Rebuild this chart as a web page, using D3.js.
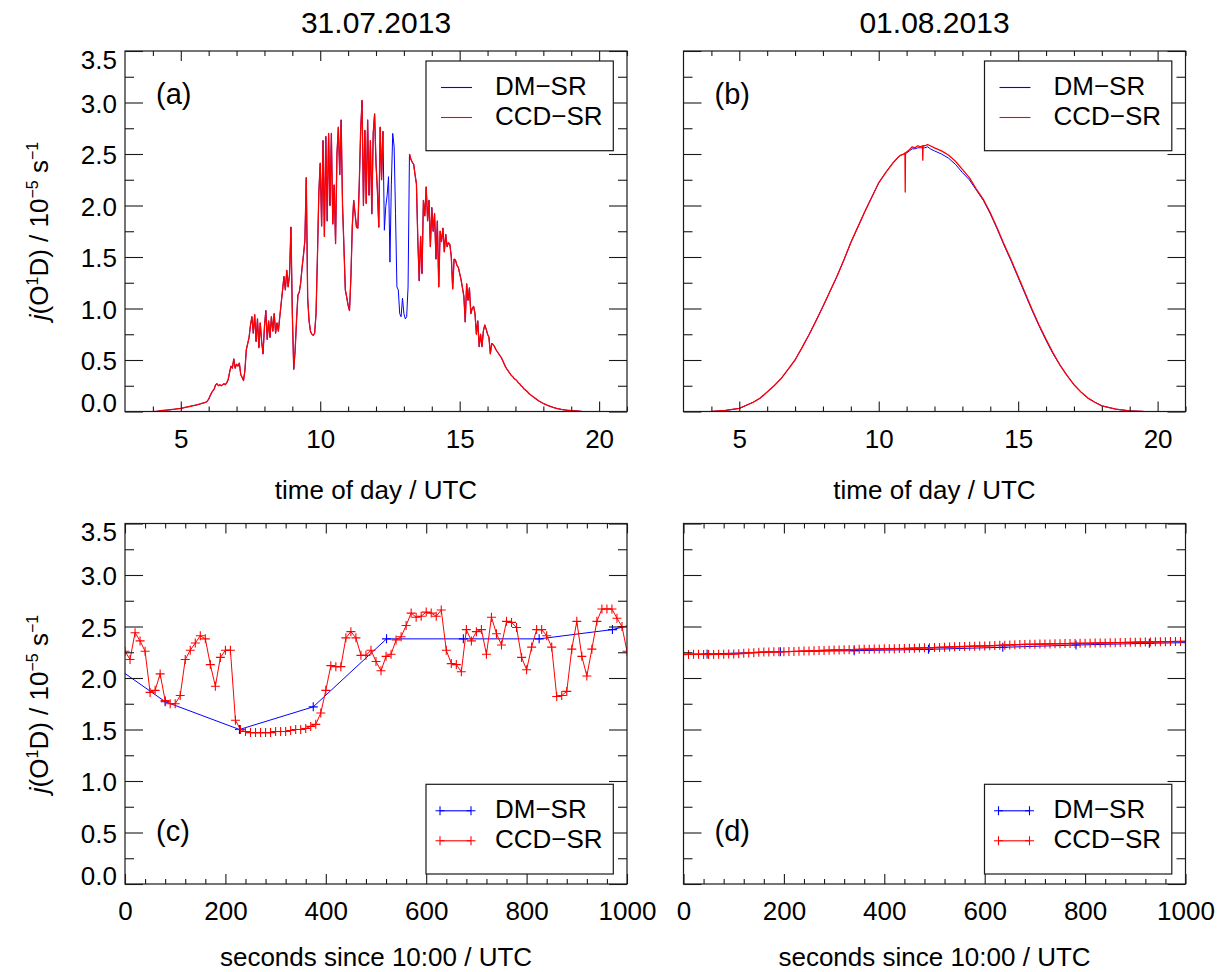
<!DOCTYPE html>
<html>
<head>
<meta charset="utf-8">
<script src="https://cdn.jsdelivr.net/npm/d3@7"></script>
<style>
  body { margin: 0; background: #fff; }
  svg { display: block; }
  text { font-family: "Liberation Sans", Arial, Helvetica, sans-serif; fill: #000; }
</style>
</head>
<body>
<svg id="chart" width="1218" height="972"></svg>
<script>
// ---------------------------------------------------------------------------
// Photolysis frequency j(O1D), two spectroradiometers (DM-SR, CCD-SR)
// ---------------------------------------------------------------------------

const dayTitles = ["31.07.2013", "01.08.2013"];
const seriesNames = ["DM\u2212SR", "CCD\u2212SR"];
const panelTags = ["(a)", "(b)", "(c)", "(d)"];

const yTickValues = [0, 0.5, 1.0, 1.5, 2.0, 2.5, 3.0, 3.5];
const yTickLabels = ["0.0", "0.5", "1.0", "1.5", "2.0", "2.5", "3.0", "3.5"];
const yMinorValues = [0.25, 0.75, 1.25, 1.75, 2.25, 2.75, 3.25];

const hourTickValues = [5, 10, 15, 20];
const hourTickLabels = ["5", "10", "15", "20"];
const hourMinorValues = [4, 6, 7, 8, 9, 11, 12, 13, 14, 16, 17, 18, 19, 21];

const secTickValues = [0, 200, 400, 600, 800, 1000];
const secTickLabels = ["0", "200", "400", "600", "800", "1000"];
const secMinorValues = [40, 80, 120, 160, 240, 280, 320, 360, 440, 480, 520, 560,
                        640, 680, 720, 760, 840, 880, 920, 960];

// (a) 31.07.2013, full day, 0.05 h sampling from 03:00 to 21:00 UTC
const hoursA = d3.range(0, 361).map(i => 3 + i * 0.05);

const dmA = [
  0,0,0,0,0,0,0,0,0,0,0,0,0,0,0,0,0,0,0,0,
  0,0,0,0.002,0.004,0.006,0.008,0.01,0.011,0.012,0.014,0.015,0.017,0.018,0.02,0.021,0.023,0.025,0.027,0.028,
  0.03,0.033,0.036,0.039,0.042,0.045,0.048,0.051,0.054,0.057,0.06,0.063,0.066,0.07,0.074,0.078,0.082,0.086,0.09,0.1,
  0.12,0.15,0.18,0.2,0.22,0.26,0.27,0.25,0.26,0.25,0.26,0.27,0.26,0.28,0.31,0.38,0.44,0.42,0.51,0.42,
  0.46,0.44,0.47,0.36,0.33,0.3,0.4,0.6,0.66,0.72,0.84,0.92,0.76,0.94,0.68,0.9,0.62,0.86,0.68,0.56,
  0.82,0.98,0.7,0.88,0.72,0.92,0.78,0.95,0.76,0.86,0.78,0.92,1.05,1.18,1.31,1.18,1.37,1.21,1.33,1.79,
  0.95,0.41,0.59,0.88,1.13,1.16,1.25,1.4,1.52,1.66,2.27,1.1,0.88,0.78,0.75,0.74,0.76,0.95,1.5,2.12,
  2.41,1.8,2.63,1.7,2.67,1.85,2.7,2.0,2.7,1.82,2.2,1.63,2.5,2.76,2.3,2.83,2.0,1.6,1.18,1.11,
  1.03,0.98,1.3,1.8,2.05,1.92,1.79,1.78,2.21,2.73,3.02,2.0,2.73,2.02,2.83,2.1,2.63,1.92,2.7,2.89,
  2.41,2.15,1.79,2.76,2.25,2.72,1.76,1.99,2.1,2.28,1.45,2.2,2.7,2.57,1.92,1.21,1.18,0.95,0.92,1.1,
  0.95,0.9,0.92,1.21,2.5,2.45,2.42,2.4,2.3,2.21,1.66,1.27,1.7,1.34,2.05,1.9,2.18,1.85,2.05,1.6,
  1.98,1.75,1.92,1.48,1.85,1.21,1.75,1.65,1.78,1.55,1.72,1.6,1.64,1.62,1.5,1.19,1.48,1.47,1.42,1.4,
  1.34,1.28,1.2,1.12,0.87,1.24,1.08,1.2,0.95,1.0,1.02,0.95,0.75,0.88,0.63,0.75,0.63,0.78,0.84,0.8,
  0.75,0.72,0.56,0.66,0.65,0.63,0.6,0.58,0.56,0.54,0.52,0.49,0.46,0.43,0.41,0.39,0.37,0.35,0.34,0.32,
  0.31,0.3,0.28,0.27,0.25,0.24,0.22,0.21,0.2,0.185,0.17,0.16,0.15,0.14,0.13,0.12,0.11,0.1,0.093,0.085,
  0.078,0.072,0.066,0.06,0.055,0.05,0.045,0.04,0.036,0.032,0.029,0.026,0.023,0.02,0.018,0.016,0.014,0.012,0.011,0.01,
  0.009,0.008,0.007,0.006,0.005,0.004,0.003,0.002,0.001,0,0,0,0,0,0,0,0,0,0,0,
  0,0,0,0,0,0,0,0,0,0,0,0,0,0,0,0,0,0,0,0,
  0
];

const ccdA = [
  null,null,null,null,null,null,null,null,null,null,null,null,null,null,null,null,null,null,null,null,
  0,0,0,0.002,0.004,0.006,0.008,0.01,0.011,0.012,0.014,0.015,0.017,0.018,0.02,0.021,0.023,0.025,0.027,0.028,
  0.03,0.033,0.036,0.039,0.042,0.045,0.048,0.051,0.054,0.057,0.06,0.063,0.066,0.07,0.074,0.078,0.082,0.086,0.09,0.1,
  0.12,0.15,0.18,0.2,0.22,0.26,0.27,0.25,0.26,0.25,0.26,0.27,0.26,0.28,0.31,0.38,0.44,0.42,0.51,0.42,
  0.46,0.44,0.47,0.36,0.33,0.3,0.4,0.6,0.66,0.72,0.84,0.92,0.76,0.94,0.68,0.9,0.62,0.86,0.68,0.56,
  0.82,0.98,0.7,0.88,0.72,0.92,0.78,0.95,0.76,0.86,0.78,0.92,1.05,1.18,1.31,1.18,1.37,1.21,1.33,1.79,
  0.95,0.41,0.59,0.88,1.13,1.16,1.25,1.4,1.52,1.66,2.27,1.1,0.88,0.78,0.75,0.74,0.76,0.95,1.5,2.12,
  2.41,1.8,2.63,1.7,2.67,1.85,2.7,2.0,2.7,1.82,2.2,1.63,2.5,2.76,2.3,2.83,2.0,1.6,1.18,1.11,
  1.03,0.98,1.3,1.8,2.05,1.92,1.79,1.78,2.21,2.73,3.02,2.0,2.73,2.02,2.83,2.1,2.63,1.92,2.7,2.89,
  2.41,2.15,1.79,2.76,2.25,2.72,null,null,null,null,null,null,null,null,null,null,null,null,null,null,
  null,null,null,null,2.5,2.45,2.42,2.4,2.3,2.21,1.66,1.27,1.7,1.34,2.05,1.9,2.18,1.85,2.05,1.6,
  1.98,1.75,1.92,1.48,1.85,1.21,1.75,1.65,1.78,1.55,1.72,1.6,1.64,1.62,1.5,1.19,1.48,1.47,1.42,1.4,
  1.34,1.28,1.2,1.12,0.87,1.24,1.08,1.2,0.95,1.0,1.02,0.95,0.75,0.88,0.63,0.75,0.63,0.78,0.84,0.8,
  0.75,0.72,0.56,0.66,0.65,0.63,0.6,0.58,0.56,0.54,0.52,0.49,0.46,0.43,0.41,0.39,0.37,0.35,0.34,0.32,
  0.31,0.3,0.28,0.27,0.25,0.24,0.22,0.21,0.2,0.185,0.17,0.16,0.15,0.14,0.13,0.12,0.11,0.1,0.093,0.085,
  0.078,0.072,0.066,0.06,0.055,0.05,0.045,0.04,0.036,0.032,0.029,0.026,0.023,0.02,0.018,0.016,0.014,0.012,0.011,0.01,
  0.009,0.008,0.007,0.006,0.005,0.004,0.003,0.002,null,null,null,null,null,null,null,null,null,null,null,null,
  null,null,null,null,null,null,null,null,null,null,null,null,null,null,null,null,null,null,null,null,
  null
];

// (b) 01.08.2013, clear-sky day
const hoursB = [3, 3.5, 4, 4.5, 5, 5.5, 5.75,
  6, 6.25, 6.5, 6.75, 7, 7.25, 7.5, 7.75, 8, 8.25, 8.5, 8.75, 9, 9.25, 9.5, 9.75,
  10, 10.25, 10.5, 10.7, 10.8, 10.9, 10.94, 10.95, 10.96,
  11, 11.1, 11.2, 11.3, 11.4, 11.5, 11.57, 11.58, 11.59, 11.65, 11.75, 11.85,
  12, 12.25, 12.5, 12.75, 13, 13.25, 13.5, 13.75, 14, 14.25, 14.5, 14.75,
  15, 15.25, 15.5, 15.75, 16, 16.25, 16.5, 16.75, 17, 17.25, 17.5, 17.75,
  18, 18.5, 19, 19.5, 20, 20.5, 21];

const dmB = [0, 0, 0, 0.01, 0.03, 0.09, 0.13,
  0.19, 0.25, 0.32, 0.41, 0.5, 0.62, 0.745, 0.88, 1.02, 1.165, 1.31, 1.47, 1.64, 1.79, 1.94, 2.08,
  2.22, 2.32, 2.41, 2.47, 2.49, 2.5, 2.5, 2.5, 2.5,
  2.51, 2.53, 2.55, 2.55, 2.56, 2.56, 2.56, 2.56, 2.56, 2.56, 2.57, 2.55,
  2.53, 2.5, 2.46, 2.4, 2.32, 2.25, 2.15, 2.05, 1.92, 1.77, 1.61, 1.46,
  1.3, 1.14, 0.98, 0.83, 0.69, 0.56, 0.45, 0.35, 0.26, 0.19, 0.13, 0.09,
  0.055, 0.023, 0.006, 0, 0, 0, 0];

const ccdB = [null, null, 0, 0.01, 0.03, 0.09, 0.13,
  0.19, 0.25, 0.32, 0.41, 0.5, 0.62, 0.745, 0.88, 1.02, 1.165, 1.31, 1.47, 1.64, 1.79, 1.94, 2.08,
  2.22, 2.32, 2.41, 2.47, 2.49, 2.5, 2.51, 2.13, 2.51,
  2.52, 2.54, 2.57, 2.56, 2.58, 2.57, 2.58, 2.44, 2.58, 2.58, 2.59, 2.58,
  2.56, 2.53, 2.49, 2.43, 2.35, 2.27, 2.16, 2.06, 1.93, 1.78, 1.62, 1.47,
  1.31, 1.15, 0.99, 0.84, 0.70, 0.57, 0.45, 0.35, 0.26, 0.19, 0.13, 0.09,
  0.055, 0.023, 0.006, 0, null, null, null];

// (c) 31.07.2013, 1000 s after 10:00 UTC
const secondsCcd = d3.range(0, 1001, 10);

const ccdC = [
  2.26, 2.18, 2.44, 2.36, 2.26, 1.86, 1.88, 2.04, 1.78, 1.75,
  1.75, 1.83, 2.18, 2.27, 2.34, 2.41, 2.38, 2.13, 1.92, 2.20,
  2.27, 2.27, 1.59, 1.50, 1.48, 1.47, 1.47, 1.47, 1.47, 1.47,
  1.48, 1.48, 1.48, 1.49, 1.50, 1.50, 1.51, 1.53, 1.55, 1.66,
  1.88, 2.12, 2.11, 2.11, 2.39, 2.45, 2.39, 2.22, 2.22, 2.27,
  2.16, 2.07, 2.21, 2.23, 2.37, 2.40, 2.51, 2.63, 2.59, 2.60,
  2.64, 2.63, 2.60, 2.66, 2.27, 2.14, 2.13, 2.06, 2.47, 2.36,
  2.45, 2.47, 2.23, 2.59, 2.43, 2.32, 2.55, 2.54, 2.49, 2.20,
  2.08, 2.30, 2.47, 2.47, 2.41, 2.30, 1.82, 1.83, 1.87, 2.28,
  2.55, 2.21, 2.02, 2.28, 2.55, 2.67, 2.67, 2.67, 2.58, 2.50,
  2.26
];

const secondsDmC = [-72, 80, 228, 375, 521, 674, 825, 971, 1120];
const dmC = [2.29, 1.77, 1.50, 1.72, 2.38, 2.38, 2.38, 2.47, 2.65];

// (d) 01.08.2013, 1000 s after 10:00 UTC
const ccdD = [
  2.228, 2.229, 2.230, 2.230, 2.229, 2.228, 2.229, 2.230, 2.231, 2.232,
  2.233, 2.236, 2.240, 2.243, 2.246, 2.249, 2.252, 2.253, 2.254, 2.255,
  2.256, 2.257, 2.258, 2.259, 2.261, 2.262, 2.264, 2.266, 2.268, 2.270,
  2.272, 2.273, 2.274, 2.275, 2.276, 2.278, 2.279, 2.280, 2.281, 2.282,
  2.283, 2.284, 2.285, 2.286, 2.287, 2.288, 2.290, 2.291, 2.293, 2.294,
  2.295, 2.297, 2.299, 2.301, 2.303, 2.305, 2.306, 2.308, 2.309, 2.310,
  2.311, 2.313, 2.315, 2.317, 2.319, 2.321, 2.323, 2.325, 2.326, 2.327,
  2.328, 2.329, 2.330, 2.331, 2.332, 2.333, 2.334, 2.335, 2.336, 2.337,
  2.337, 2.338, 2.339, 2.340, 2.341, 2.342, 2.343, 2.344, 2.345, 2.346,
  2.347, 2.348, 2.349, 2.350, 2.351, 2.352, 2.353, 2.354, 2.355, 2.355,
  2.356
];

const secondsDmD = [-100, 47, 193, 340, 488, 636, 782, 928, 1075];
const dmD = [2.22, 2.233, 2.256, 2.265, 2.278, 2.298, 2.32, 2.337, 2.35];

// ---------------------------------------------------------------------------
// Layout and style
// ---------------------------------------------------------------------------
const PW = 502, PH = 360.5;
const FS = 26;
const BLUE = "#0000ff", RED = "#ff0000", AXIS = "#1a1a1a";

const svg = d3.select("#chart");

function plusPath(s) {
  return `M${-s},0H${s}M0,${-s}V${s}`;
}

function drawPanel(opt) {
  const { left, top, xDomain, xTicks, xLabels, xMinor, yLabels, xTitle, xTitleGap,
          tag, legendAtBottom, series, withMarkers } = opt;
  const x = d3.scaleLinear().domain(xDomain).range([left, left + PW]);
  const y = d3.scaleLinear().domain([0, 3.5]).range([top + PH, top]);
  const g = svg.append("g");

  const clipId = "clip-" + tag.replace(/[()]/g, "");
  svg.append("clipPath").attr("id", clipId)
    .append("rect").attr("x", left).attr("y", top).attr("width", PW).attr("height", PH);

  // data
  const plot = g.append("g").attr("clip-path", `url(#${clipId})`);
  series.forEach(s => {
    const pts = s.xs.map((xv, i) => [xv, s.ys[i]]);
    const line = d3.line()
      .defined(d => d[1] !== null && d[1] !== undefined)
      .x(d => x(d[0])).y(d => y(d[1]));
    plot.append("path").datum(pts)
      .attr("d", line).attr("fill", "none")
      .attr("stroke", s.color).attr("stroke-width", s.width)
      .attr("stroke-linejoin", "round");
    if (withMarkers) {
      plot.append("g").selectAll("path")
        .data(pts.filter(d => d[1] !== null))
        .join("path")
        .attr("transform", d => `translate(${x(d[0])},${y(d[1])})`)
        .attr("d", plusPath(4.5))
        .attr("stroke", s.color).attr("stroke-width", 1.1).attr("fill", "none");
    }
  });

  // axes: ticks inward on all four sides
  const styleAxis = sel => {
    sel.select(".domain").remove();
    sel.selectAll(".tick line").attr("stroke", AXIS).attr("stroke-width", 1.1);
    sel.selectAll("text").attr("font-size", FS).attr("fill", "#000")
      .attr("font-family", '"Liberation Sans", Arial, sans-serif');
  };

  g.append("g").attr("transform", `translate(0,${top + PH})`)
    .call(d3.axisBottom(x).tickValues(xTicks).tickSize(-10).tickPadding(18)
      .tickFormat((d, i) => xLabels[i]))
    .call(styleAxis);
  g.append("g").attr("transform", `translate(0,${top + PH})`)
    .call(d3.axisBottom(x).tickValues(xMinor).tickSize(-5).tickFormat(""))
    .call(styleAxis);
  g.append("g").attr("transform", `translate(0,${top})`)
    .call(d3.axisTop(x).tickValues(xTicks).tickSize(-10).tickFormat(""))
    .call(styleAxis);
  g.append("g").attr("transform", `translate(0,${top})`)
    .call(d3.axisTop(x).tickValues(xMinor).tickSize(-5).tickFormat(""))
    .call(styleAxis);

  const leftAxis = g.append("g").attr("transform", `translate(${left},0)`)
    .call(d3.axisLeft(y).tickValues(yTickValues).tickSize(-18).tickPadding(8)
      .tickFormat((d, i) => yLabels ? yTickLabels[i] : ""))
    .call(styleAxis);
  leftAxis.selectAll("text").attr("dy", d => d === 3.5 ? "0.66em" : d === 0 ? "0em" : "0.38em");
  g.append("g").attr("transform", `translate(${left},0)`)
    .call(d3.axisLeft(y).tickValues(yMinorValues).tickSize(-9).tickFormat(""))
    .call(styleAxis);
  g.append("g").attr("transform", `translate(${left + PW},0)`)
    .call(d3.axisRight(y).tickValues(yTickValues).tickSize(-18).tickFormat(""))
    .call(styleAxis);
  g.append("g").attr("transform", `translate(${left + PW},0)`)
    .call(d3.axisRight(y).tickValues(yMinorValues).tickSize(-9).tickFormat(""))
    .call(styleAxis);

  // frame
  g.append("rect").attr("x", left).attr("y", top).attr("width", PW).attr("height", PH)
    .attr("fill", "none").attr("stroke", AXIS).attr("stroke-width", 1.2);

  // x-axis title
  g.append("text").attr("x", left + PW / 2).attr("y", top + PH + xTitleGap)
    .attr("text-anchor", "middle").attr("font-size", FS).text(xTitle);

  // panel tag
  g.append("text").attr("x", left + 31)
    .attr("y", legendAtBottom ? top + PH - 43 : top + 53)
    .attr("font-size", 29).text(tag);

  // legend
  const bx = left + 301, bw = 187.3, bh = 89.7;
  const by = legendAtBottom ? top + PH - 10 - bh : top + 10;
  const lg = g.append("g");
  lg.append("rect").attr("x", bx).attr("y", by).attr("width", bw).attr("height", bh)
    .attr("fill", "#fff").attr("stroke", AXIS).attr("stroke-width", 1.2);
  series.forEach((s, i) => {
    const ly = by + 26.5 + i * 30;
    const x1 = bx + (withMarkers ? 14 : 15), x2 = bx + (withMarkers ? 45 : 46);
    lg.append("line").attr("x1", x1).attr("x2", x2).attr("y1", ly).attr("y2", ly)
      .attr("stroke", s.color).attr("stroke-width", 1.1);
    if (withMarkers) {
      [x1, x2].forEach(px => lg.append("path")
        .attr("transform", `translate(${px},${ly})`).attr("d", plusPath(4.5))
        .attr("stroke", s.color).attr("stroke-width", 1.1));
    }
    lg.append("text").attr("x", bx + 69).attr("y", by + 34 + i * 30)
      .attr("font-size", FS).text(seriesNames[i]);
  });
}

function yTitle(cx, cy) {
  const t = svg.append("text")
    .attr("transform", `translate(${cx},${cy}) rotate(-90)`)
    .attr("text-anchor", "middle").attr("font-size", FS);
  t.append("tspan").attr("font-style", "italic").text("j");
  t.append("tspan").text("(O");
  t.append("tspan").attr("font-size", 16).attr("dy", -10).text("1");
  t.append("tspan").attr("dy", 10).text("D) / 10");
  t.append("tspan").attr("font-size", 16).attr("dy", -10).text("\u22125");
  t.append("tspan").attr("dy", 10).text(" s");
  t.append("tspan").attr("font-size", 16).attr("dy", -10).text("\u22121");
}

const hourSeries = (dmXs, dmYs, ccdXs, ccdYs) => [
  { xs: dmXs, ys: dmYs, color: BLUE, width: 1.0 },
  { xs: ccdXs, ys: ccdYs, color: RED, width: 1.3 }
];

drawPanel({ left: 125, top: 51, xDomain: [3, 21], xTicks: hourTickValues, xLabels: hourTickLabels,
  xMinor: hourMinorValues, yLabels: true, xTitle: "time of day / UTC", xTitleGap: 87, tag: panelTags[0],
  legendAtBottom: false, withMarkers: false,
  series: hourSeries(hoursA, dmA, hoursA, ccdA) });

drawPanel({ left: 683.5, top: 51, xDomain: [3, 21], xTicks: hourTickValues, xLabels: hourTickLabels,
  xMinor: hourMinorValues, yLabels: false, xTitle: "time of day / UTC", xTitleGap: 87, tag: panelTags[1],
  legendAtBottom: false, withMarkers: false,
  series: hourSeries(hoursB, dmB, hoursB, ccdB) });

drawPanel({ left: 125, top: 523.5, xDomain: [0, 1000], xTicks: secTickValues, xLabels: secTickLabels,
  xMinor: secMinorValues, yLabels: true, xTitle: "seconds since 10:00 / UTC", xTitleGap: 82, tag: panelTags[2],
  legendAtBottom: true, withMarkers: true,
  series: [
    { xs: secondsDmC, ys: dmC, color: BLUE, width: 1.0 },
    { xs: secondsCcd, ys: ccdC, color: RED, width: 1.0 }
  ] });

drawPanel({ left: 683.5, top: 523.5, xDomain: [0, 1000], xTicks: secTickValues, xLabels: secTickLabels,
  xMinor: secMinorValues, yLabels: false, xTitle: "seconds since 10:00 / UTC", xTitleGap: 82, tag: panelTags[3],
  legendAtBottom: true, withMarkers: true,
  series: [
    { xs: secondsDmD, ys: dmD, color: BLUE, width: 1.0 },
    { xs: secondsCcd, ys: ccdD, color: RED, width: 1.3 }
  ] });

// column titles
svg.append("text").attr("x", 376).attr("y", 33).attr("text-anchor", "middle")
  .attr("font-size", 30).text(dayTitles[0]);
svg.append("text").attr("x", 934.5).attr("y", 33).attr("text-anchor", "middle")
  .attr("font-size", 30).text(dayTitles[1]);

yTitle(48, 231);
yTitle(48, 704);
</script>
</body>
</html>
